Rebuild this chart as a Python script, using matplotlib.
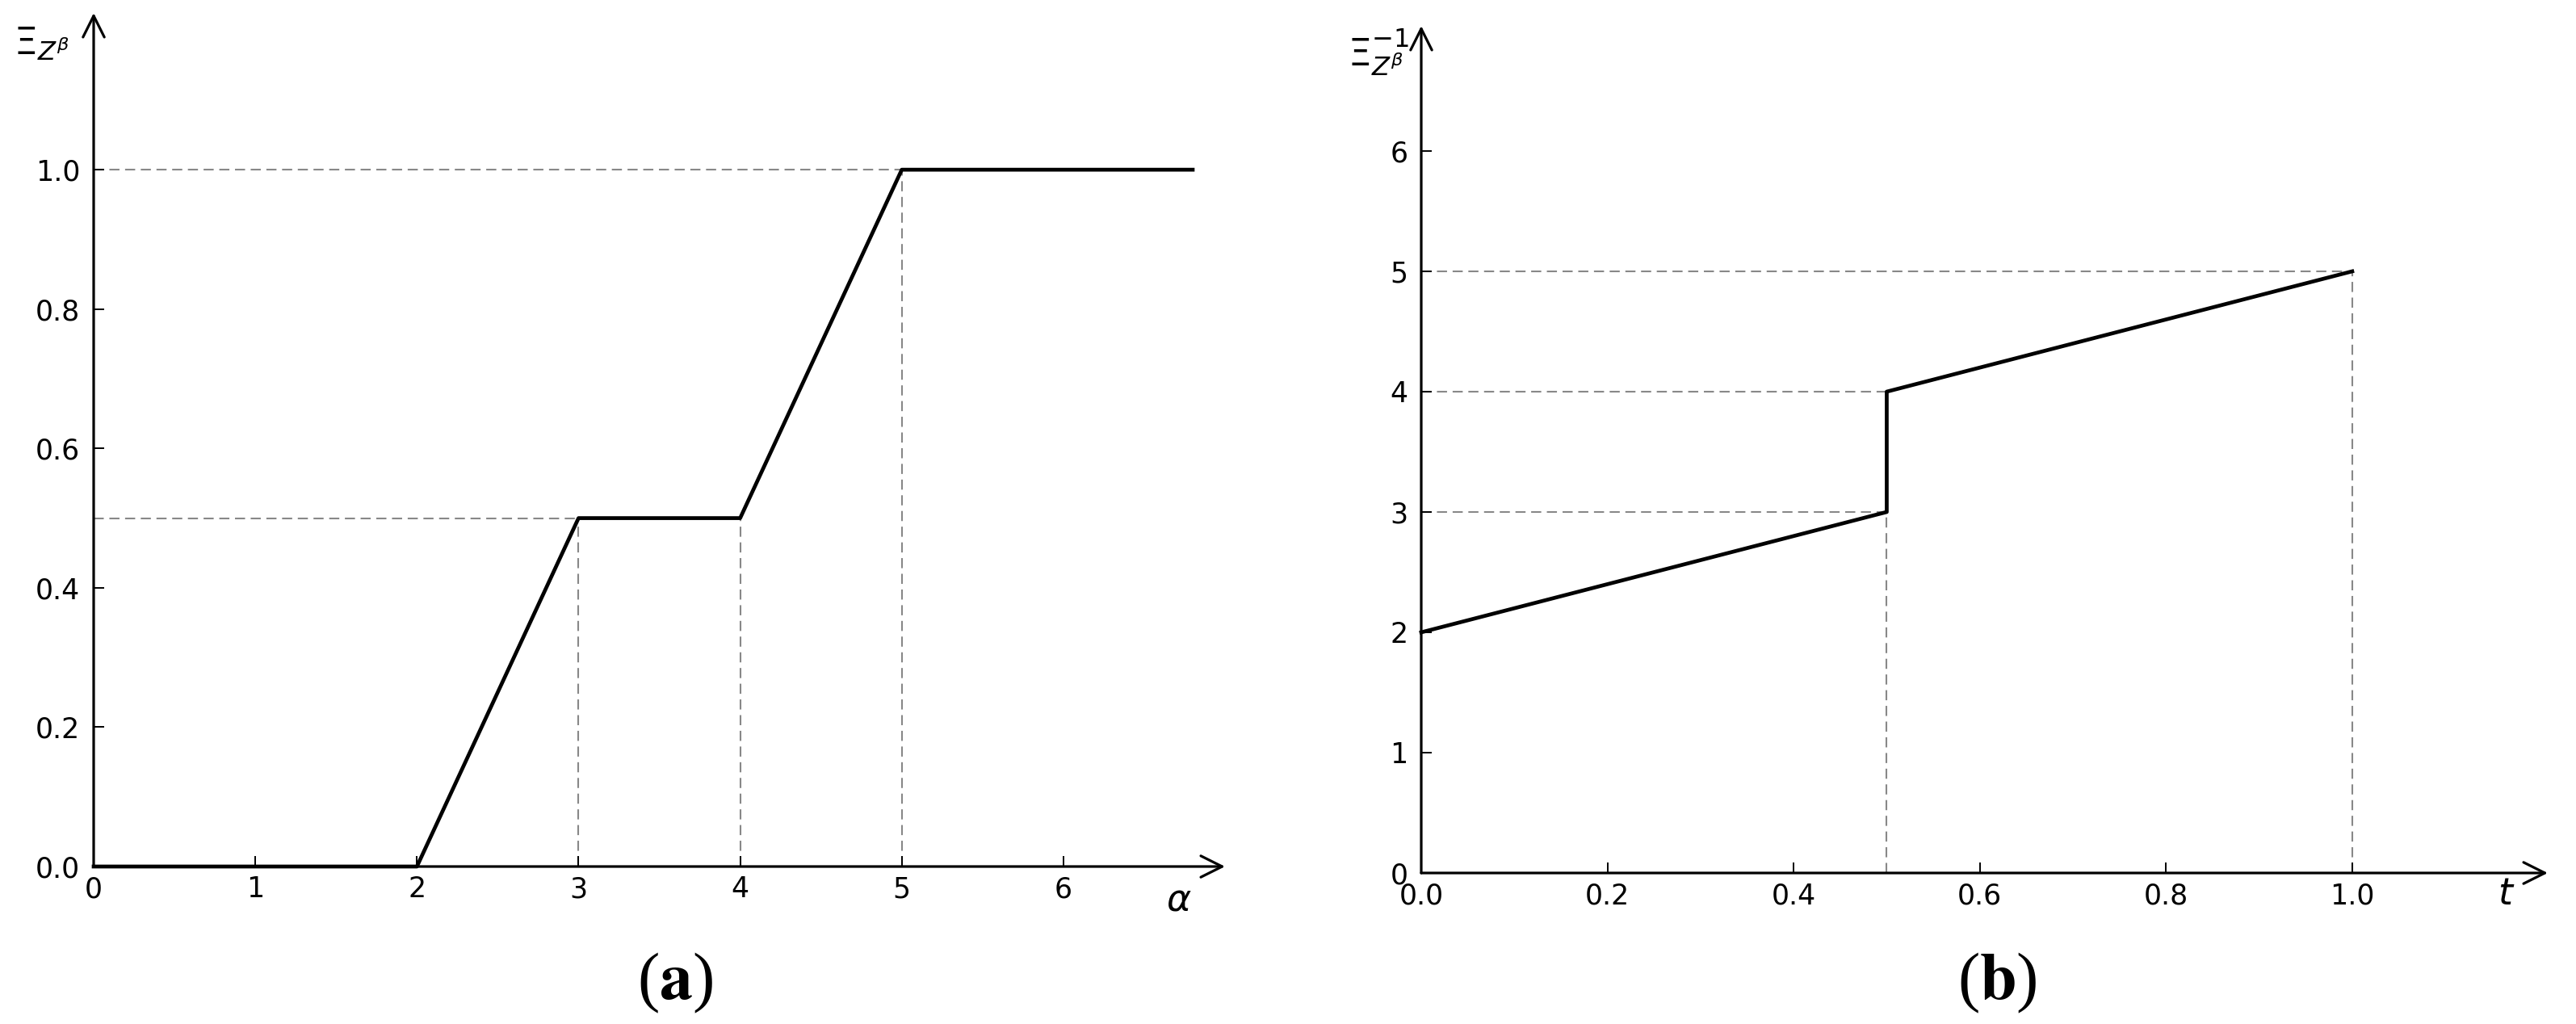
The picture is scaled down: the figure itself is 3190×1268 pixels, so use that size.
import matplotlib
matplotlib.use("Agg")
import matplotlib.pyplot as plt

plt.rcParams['lines.scale_dashes'] = False

# panel (a): piecewise linear CDF
a_x = [0, 2, 3, 4, 5, 6.8]
a_y = [0, 0, 0.5, 0.5, 1.0, 1.0]
a_xticks = [0, 1, 2, 3, 4, 5, 6]
a_yticks = [0.0, 0.2, 0.4, 0.6, 0.8, 1.0]
a_ylabels = ['0.0', '0.2', '0.4', '0.6', '0.8', '1.0']
# guide lines (x0, x1, y0, y1)
a_guides = [(0, 5, 1.0, 1.0), (5, 5, 0, 1.0), (0, 3, 0.5, 0.5),
            (3, 3, 0, 0.5), (4, 4, 0, 0.5)]

# panel (b): quantile function
b_x = [0.0, 0.5, 0.5, 1.0]
b_y = [2, 3, 4, 5]
b_xticks = [0.0, 0.2, 0.4, 0.6, 0.8, 1.0]
b_xlabels = ['0.0', '0.2', '0.4', '0.6', '0.8', '1.0']
b_yticks = [0, 1, 2, 3, 4, 5, 6]
b_guides = [(0, 1.0, 5, 5), (1.0, 1.0, 0, 5), (0, 0.5, 4, 4),
            (0, 0.5, 3, 3), (0.5, 0.5, 0, 3)]

W, H = 3190, 1268
fig = plt.figure(figsize=(W / 100, H / 100), dpi=100)

def px(x0, y0, x1, y1):
    # pixel box (top-left origin) -> figure fraction rect
    return [x0 / W, 1 - y1 / H, (x1 - x0) / W, (y1 - y0) / H]

ax1 = fig.add_axes(px(116, 16, 1517, 1073))
ax2 = fig.add_axes(px(1760, 32, 3155, 1081))

def style(ax, xlim, ylim):
    ax.set_xlim(*xlim)
    ax.set_ylim(*ylim)
    for s in ax.spines.values():
        s.set_visible(False)
    ax.tick_params(direction='in', length=9.5, width=1.4, labelsize=25,
                   top=False, right=False)
    ax.tick_params(axis='x', pad=8)
    ax.tick_params(axis='y', pad=12)
    arr = dict(arrowstyle='->,head_length=1.9,head_width=0.95', lw=2.3,
               color='black', mutation_scale=10, shrinkA=0, shrinkB=0)
    ax.annotate('', xy=(1, 0), xytext=(0, 0), xycoords='axes fraction',
                arrowprops=arr, annotation_clip=False)
    ax.annotate('', xy=(0, 1), xytext=(0, 0), xycoords='axes fraction',
                arrowprops=arr, annotation_clip=False)

style(ax1, (0, 7.0), (0, 1.225))
style(ax2, (0, 1.21), (0, 7.04))

for g in a_guides:
    ax1.plot(g[:2], g[2:], color='#888888', lw=1.5, dashes=(9, 5), zorder=1)
for g in b_guides:
    ax2.plot(g[:2], g[2:], color='#888888', lw=1.5, dashes=(9, 5), zorder=1)

ax1.plot(a_x, a_y, color='black', lw=3.4, clip_on=False, zorder=3)
ax2.plot(b_x, b_y, color='black', lw=3.4, clip_on=False, zorder=3)

ax1.set_xticks(a_xticks)
ax1.set_yticks(a_yticks)
ax1.set_yticklabels(a_ylabels)
ax2.set_xticks(b_xticks)
ax2.set_xticklabels(b_xlabels)
ax2.set_yticks(b_yticks)

# axis labels
fig.text(1460 / W, 1 - 1115 / H, r'$\alpha$', fontsize=33, ha='center', va='center')
fig.text(3104 / W, 1 - 1107 / H, r'$t$', fontsize=33, ha='center', va='center')
fig.text(52 / W, 1 - 55 / H, r'$\Xi_{Z^\beta}$', fontsize=33, ha='center', va='center')
fig.text(1707 / W, 1 - 65 / H, r'$\Xi^{-1}_{Z^\beta}$', fontsize=33, ha='center', va='center')

# captions
fig.text(836 / W, 1 - 1217 / H, r'($\mathbf{a}$)', fontsize=59, family='Liberation Serif',
         math_fontfamily='stix', ha='center', va='center')
fig.text(2473 / W, 1 - 1217 / H, r'($\mathbf{b}$)', fontsize=59, family='Liberation Serif',
         math_fontfamily='stix', ha='center', va='center')

fig.savefig('out.png', dpi=100)
